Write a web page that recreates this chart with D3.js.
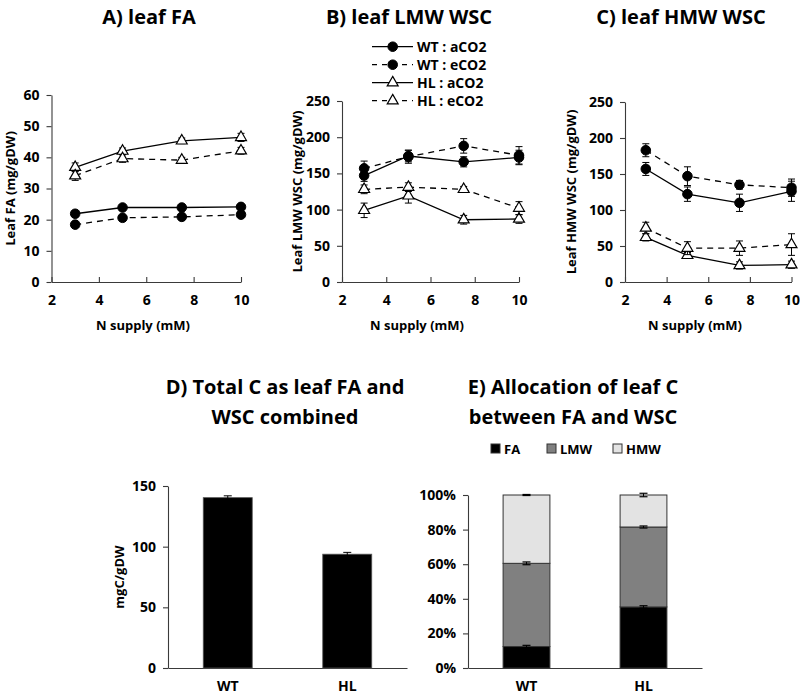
<!DOCTYPE html>
<html><head><meta charset="utf-8">
<script src="https://cdn.jsdelivr.net/npm/d3@7"></script>
<style>
body{margin:0;background:#fff;}
svg{display:block;font-family:"Open Sans",sans-serif;}
</style></head><body>
<svg id="chart" width="800" height="696"></svg>
<script>
// ---------- data ----------
const nSupply = [3, 5, 7.5, 10];
const xTickValues = [2, 4, 6, 8, 10];
const seriesLabels = ["WT : aCO2", "WT : eCO2", "HL : aCO2", "HL : eCO2"];

// A) leaf FA (mg/gDW)
const faWTa = [21.9, 23.9, 23.9, 24.1];
const faWTe = [18.4, 20.6, 20.9, 21.6];
const faHLa = [36.8, 42.0, 45.3, 46.4];
const faHLe = [34.1, 39.6, 39.1, 42.1];
const faWTaErr = [0.8, 0.7, 0.6, 0.7];
const faWTeErr = [0.7, 0.6, 0.6, 0.7];
const faHLaErr = [1.4, 1.0, 0.9, 1.3];
const faHLeErr = [1.5, 1.2, 0.9, 1.1];
const faTicks = [0, 10, 20, 30, 40, 50, 60];

// B) leaf LMW WSC (mg/gDW)
const lmwWTa = [147, 174, 166, 172];
const lmwWTe = [157, 173, 188, 175];
const lmwHLa = [99, 119, 86, 87];
const lmwHLe = [128, 131, 128, 102];
const lmwWTaErr = [8, 8, 7, 10];
const lmwWTeErr = [10, 9, 10, 12];
const lmwHLaErr = [10, 10, 6, 6];
const lmwHLeErr = [6, 6, 4, 9];
const wscTicks = [0, 50, 100, 150, 200, 250];

// C) leaf HMW WSC (mg/gDW)
const hmwWTa = [157, 122, 110, 126];
const hmwWTe = [183, 147, 135, 131];
const hmwHLa = [62, 37, 23, 24];
const hmwHLe = [75, 47, 47, 52];
const hmwWTaErr = [9, 10, 12, 14];
const hmwWTeErr = [9, 13, 6, 12];
const hmwHLaErr = [5, 4, 5, 5];
const hmwHLeErr = [8, 9, 10, 15];

// D) Total C (mgC/gDW)
const genotypes = ["WT", "HL"];
const totalC = [140.4, 93.8];
const totalCErr = [1.5, 1.5];
const totalCTicks = [0, 50, 100, 150];

// E) Allocation (%)
const fractions = ["FA", "LMW", "HMW"];
const allocFA = [12.4, 35.3];
const allocLMW = [48.1, 46.2];
const allocHMW = [39.5, 18.5];
const allocFAErr = [0.7, 0.7];
const allocLMWErr = [0.8, 0.6];
const allocHMWErr = [0.3, 1.0];
const allocTicks = [0, 20, 40, 60, 80, 100];

// ---------- drawing ----------
const svg = d3.select("#chart");
const AXIS = "#3a3a3a";
const dashedFlags = [false, true, false, true];
const markerTypes = ["circle", "circle", "triangle", "triangle"];

function styleAxis(g, fs) {
  g.select(".domain").attr("stroke", AXIS).attr("stroke-width", 1.1);
  g.selectAll(".tick line").attr("stroke", AXIS).attr("stroke-width", 1.1);
  g.selectAll(".tick text").attr("fill", "#000").attr("font-size", fs || 14)
    .attr("font-weight", "bold").attr("font-family", '"Open Sans", sans-serif');
}

function drawMarker(sel, type) {
  if (type === "circle") {
    sel.attr("d", d3.symbol().type(d3.symbolCircle).size(72)())
      .attr("fill", "#000").attr("stroke", "#000").attr("stroke-width", 1);
  } else {
    sel.attr("d", d3.symbol().type(d3.symbolTriangle).size(52)())
      .attr("fill", "#fff").attr("stroke", "#000").attr("stroke-width", 1.2);
  }
}

function linePanel(p) {
  const x = d3.scaleLinear().domain([2, 10]).range([p.left, p.right]);
  const y = d3.scaleLinear().domain([0, p.yMax]).range([p.bottom, p.top]);
  const g = svg.append("g");

  const ya = g.append("g").attr("transform", `translate(${p.left},0)`)
    .call(d3.axisLeft(y).tickValues(p.yTicks).tickSize(5).tickSizeOuter(0).tickPadding(7));
  styleAxis(ya);
  const xa = g.append("g").attr("transform", `translate(0,${p.bottom})`)
    .call(d3.axisBottom(x).tickValues(xTickValues).tickSizeInner(-5).tickSizeOuter(0).tickPadding(13));
  styleAxis(xa);

  // titles
  g.append("text").attr("x", p.titleX).attr("y", 24).attr("text-anchor", "middle")
    .attr("font-size", 20).attr("font-weight", "bold").text(p.title);
  g.append("text").attr("x", p.xlabelX).attr("y", 330).attr("text-anchor", "middle")
    .attr("font-size", 13).attr("font-weight", "bold").text("N supply (mM)");
  g.append("text").attr("transform", `translate(${p.ylabelX},${(p.top + p.bottom) / 2}) rotate(-90)`)
    .attr("text-anchor", "middle").attr("dominant-baseline", "central")
    .attr("font-size", 13).attr("font-weight", "bold").text(p.ylabel);

  const line = d3.line().x(d => x(d.n)).y(d => y(d.v));
  p.series.forEach((s, i) => {
    const pts = nSupply.map((n, j) => ({ n, v: s.vals[j], e: s.errs[j] }));
    const sg = g.append("g");
    sg.append("path").datum(pts).attr("d", line).attr("fill", "none")
      .attr("stroke", "#000").attr("stroke-width", 1.3)
      .attr("stroke-dasharray", dashedFlags[i] ? "6,5" : null);
    // error bars
    const eb = sg.selectAll(".eb").data(pts).enter().append("g");
    eb.append("line").attr("x1", d => x(d.n)).attr("x2", d => x(d.n))
      .attr("y1", d => y(d.v - d.e)).attr("y2", d => y(d.v + d.e))
      .attr("stroke", "#000").attr("stroke-width", 1);
    [-1, 1].forEach(k => {
      eb.append("line").attr("x1", d => x(d.n) - 3.5).attr("x2", d => x(d.n) + 3.5)
        .attr("y1", d => y(d.v + k * d.e)).attr("y2", d => y(d.v + k * d.e))
        .attr("stroke", "#000").attr("stroke-width", 1);
    });
    sg.selectAll(".mk").data(pts).enter().append("path")
      .attr("transform", d => `translate(${x(d.n)},${y(d.v)})`)
      .call(sel => drawMarker(sel, markerTypes[i]));
  });
}

linePanel({
  left: 51.5, right: 241, top: 95, bottom: 282, yMax: 60, yTicks: faTicks,
  title: "A) leaf FA", titleX: 149, xlabelX: 143, ylabel: "Leaf FA (mg/gDW)", ylabelX: 10,
  series: [
    { vals: faWTa, errs: faWTaErr }, { vals: faWTe, errs: faWTeErr },
    { vals: faHLa, errs: faHLaErr }, { vals: faHLe, errs: faHLeErr }
  ]
});
linePanel({
  left: 342, right: 519, top: 101, bottom: 282, yMax: 250, yTicks: wscTicks,
  title: "B) leaf LMW WSC", titleX: 409, xlabelX: 417, ylabel: "Leaf LMW WSC (mg/gDW)", ylabelX: 297,
  series: [
    { vals: lmwWTa, errs: lmwWTaErr }, { vals: lmwWTe, errs: lmwWTeErr },
    { vals: lmwHLa, errs: lmwHLaErr }, { vals: lmwHLe, errs: lmwHLeErr }
  ]
});
linePanel({
  left: 625, right: 791.5, top: 102, bottom: 282, yMax: 250, yTicks: wscTicks,
  title: "C) leaf HMW WSC", titleX: 681, xlabelX: 695, ylabel: "Leaf HMW WSC (mg/gDW)", ylabelX: 571,
  series: [
    { vals: hmwWTa, errs: hmwWTaErr }, { vals: hmwWTe, errs: hmwWTeErr },
    { vals: hmwHLa, errs: hmwHLaErr }, { vals: hmwHLe, errs: hmwHLeErr }
  ]
});

// legend (in panel B)
const leg = svg.append("g");
seriesLabels.forEach((lab, i) => {
  const ly = 46.7 + i * 18;
  leg.append("line").attr("x1", 372).attr("x2", 413).attr("y1", ly).attr("y2", ly)
    .attr("stroke", "#000").attr("stroke-width", 1.3)
    .attr("stroke-dasharray", dashedFlags[i] ? "5,5" : null);
  leg.append("path").attr("transform", `translate(392.7,${ly})`)
    .call(sel => drawMarker(sel, markerTypes[i]));
  leg.append("text").attr("x", 417).attr("y", ly).attr("dominant-baseline", "central")
    .attr("font-size", 14).attr("font-weight", "bold").text(lab);
});

// ---------- D) total C bar chart ----------
(function () {
  const left = 168, right = 407, top = 486, bottom = 668;
  const x = d3.scaleBand().domain(genotypes).range([left, right]).paddingInner(0.59).paddingOuter(0.295);
  const y = d3.scaleLinear().domain([0, 150]).range([bottom, top]);
  const g = svg.append("g");
  const ya = g.append("g").attr("transform", `translate(${left},0)`)
    .call(d3.axisLeft(y).tickValues(totalCTicks).tickSize(5).tickSizeOuter(0).tickPadding(7));
  styleAxis(ya);
  const xa = g.append("g").attr("transform", `translate(0,${bottom})`)
    .call(d3.axisBottom(x).tickSize(0).tickPadding(13));
  styleAxis(xa);
  g.selectAll(".bar").data(genotypes).enter().append("rect")
    .attr("x", d => x(d)).attr("width", x.bandwidth())
    .attr("y", (d, i) => y(totalC[i])).attr("height", (d, i) => bottom - y(totalC[i]))
    .attr("fill", "#000").attr("stroke", "#555").attr("stroke-width", 0.8);
  genotypes.forEach((gname, i) => {
    const cx = x(gname) + x.bandwidth() / 2;
    g.append("line").attr("x1", cx).attr("x2", cx)
      .attr("y1", y(totalC[i] - totalCErr[i])).attr("y2", y(totalC[i] + totalCErr[i]))
      .attr("stroke", "#000");
    g.append("line").attr("x1", cx - 4).attr("x2", cx + 4)
      .attr("y1", y(totalC[i] + totalCErr[i])).attr("y2", y(totalC[i] + totalCErr[i]))
      .attr("stroke", "#000");
  });
  g.append("text").attr("x", 285).attr("y", 394).attr("text-anchor", "middle")
    .attr("font-size", 20).attr("font-weight", "bold").text("D) Total C as leaf FA and");
  g.append("text").attr("x", 285).attr("y", 424).attr("text-anchor", "middle")
    .attr("font-size", 20).attr("font-weight", "bold").text("WSC combined");
  g.append("text").attr("transform", `translate(119,${(top + bottom) / 2}) rotate(-90)`)
    .attr("text-anchor", "middle").attr("dominant-baseline", "central")
    .attr("font-size", 13).attr("font-weight", "bold").text("mgC/gDW");
})();

// ---------- E) allocation stacked bars ----------
(function () {
  const left = 468, right = 702, top = 495, bottom = 668;
  const x = d3.scaleBand().domain(genotypes).range([left, right]).paddingInner(0.6).paddingOuter(0.3);
  const y = d3.scaleLinear().domain([0, 100]).range([bottom, top]);
  const colors = { FA: "#000000", LMW: "#808080", HMW: "#e3e3e3" };
  const rows = genotypes.map((gname, i) => ({
    g: gname, FA: allocFA[i], LMW: allocLMW[i], HMW: allocHMW[i],
    FAe: allocFAErr[i], LMWe: allocLMWErr[i], HMWe: allocHMWErr[i]
  }));
  const stacked = d3.stack().keys(fractions)(rows);
  const g = svg.append("g");
  const ya = g.append("g").attr("transform", `translate(${left},0)`)
    .call(d3.axisLeft(y).tickValues(allocTicks).tickFormat(d => d + "%").tickSize(5).tickSizeOuter(0).tickPadding(7));
  styleAxis(ya);
  const xa = g.append("g").attr("transform", `translate(0,${bottom})`)
    .call(d3.axisBottom(x).tickSize(0).tickPadding(13));
  styleAxis(xa);
  stacked.forEach(layer => {
    g.selectAll(null).data(layer).enter().append("rect")
      .attr("x", d => x(d.data.g)).attr("width", x.bandwidth())
      .attr("y", d => y(d[1])).attr("height", d => y(d[0]) - y(d[1]))
      .attr("fill", colors[layer.key]).attr("stroke", "#333").attr("stroke-width", 1);
  });
  stacked.forEach(layer => {
    layer.forEach(d => {
      const cx = x(d.data.g) + x.bandwidth() / 2;
      const e = d.data[layer.key + "e"];
      g.append("line").attr("x1", cx).attr("x2", cx).attr("y1", y(d[1] - e)).attr("y2", y(d[1] + e))
        .attr("stroke", "#000").attr("stroke-width", 1);
      [-1, 1].forEach(k => g.append("line").attr("x1", cx - 4).attr("x2", cx + 4)
        .attr("y1", y(d[1] + k * e)).attr("y2", y(d[1] + k * e)).attr("stroke", "#000").attr("stroke-width", 1.2));
    });
  });
  g.append("text").attr("x", 573).attr("y", 394).attr("text-anchor", "middle")
    .attr("font-size", 20).attr("font-weight", "bold").text("E) Allocation of leaf C");
  g.append("text").attr("x", 573).attr("y", 424).attr("text-anchor", "middle")
    .attr("font-size", 20).attr("font-weight", "bold").text("between FA and WSC");
  // legend
  const legX = [491, 547, 613];
  fractions.forEach((f, i) => {
    g.append("rect").attr("x", legX[i]).attr("y", 444).attr("width", 9).attr("height", 9)
      .attr("fill", colors[f]).attr("stroke", "#333").attr("stroke-width", 1);
    g.append("text").attr("x", legX[i] + 13).attr("y", 448.5).attr("dominant-baseline", "central")
      .attr("font-size", 13).attr("font-weight", "bold").text(f);
  });
})();
</script>
</body></html>
